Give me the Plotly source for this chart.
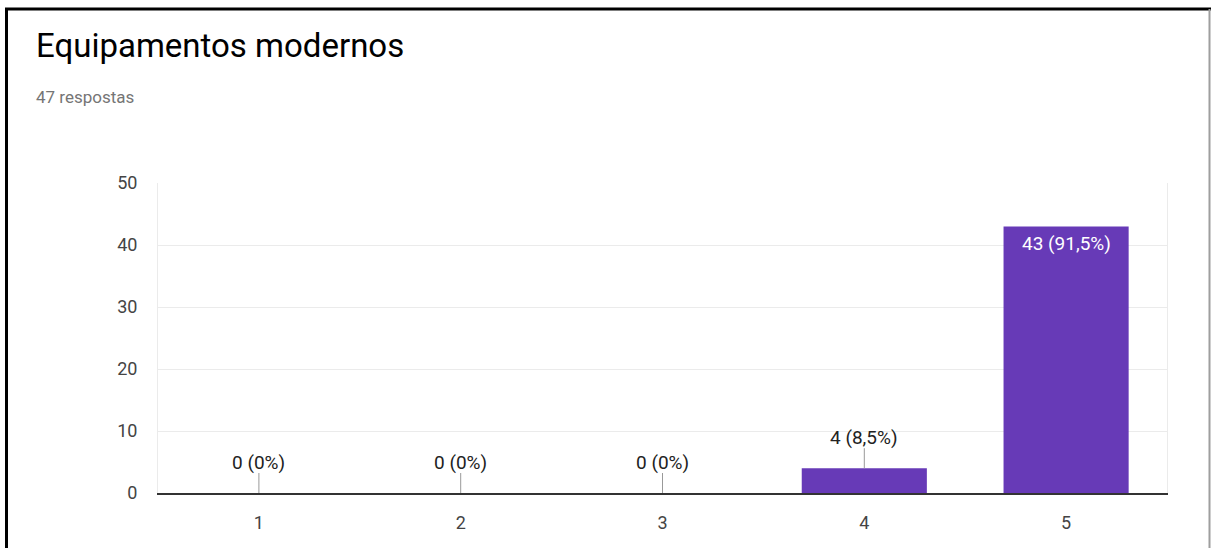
import plotly.graph_objects as go

# Survey results: "Equipamentos modernos" (scale 1-5)
categories = ["1", "2", "3", "4", "5"]
counts = [0, 0, 0, 4, 43]
total = 47
y_ticks = [0, 10, 20, 30, 40, 50]

W, H = 1211, 548
L, R, T, B = 158, 44, 183, 55
pw, ph = W - L - R, H - T - B

def px_x(x):
    return (x - L) / pw

def px_y(y):
    return (H - B - y) / ph

def pct(c):
    v = round(100 * c / total, 1)
    s = f"{v:.1f}".rstrip("0").rstrip(".").replace(".", ",")
    return f"{c} ({s}%)"

PURPLE = "#673ab7"
FONT = "Roboto"

fig = go.Figure(
    go.Bar(
        x=categories,
        y=counts,
        marker=dict(color=PURPLE, line=dict(width=0)),
        width=0.62,
        hoverinfo="skip",
    )
)

annotations = []
shapes = []
inside_cut = max(counts) * 0.8
for i, c in enumerate(counts):
    if c >= inside_cut:
        annotations.append(dict(
            x=i, y=c, xref="x", yref="y", text=pct(c), showarrow=False,
            yshift=-17, font=dict(family=FONT, size=19, color="#ffffff"),
        ))
    else:
        annotations.append(dict(
            x=i, y=c, xref="x", yref="y", text=pct(c), showarrow=False,
            yshift=31, font=dict(family=FONT, size=19, color="#222222"),
        ))
        shapes.append(dict(
            type="line", xref="x", yref="y", ysizemode="pixel", yanchor=c,
            x0=i, x1=i, y0=0, y1=20,
            line=dict(color="#999999", width=1),
        ))

# Title and response count
annotations.append(dict(
    x=px_x(34), y=px_y(45), xref="paper", yref="paper", xanchor="left", yanchor="middle",
    text="Equipamentos modernos", showarrow=False,
    font=dict(family=FONT, size=33, color="#000000"),
))
annotations.append(dict(
    x=px_x(34), y=px_y(97), xref="paper", yref="paper", xanchor="left", yanchor="middle",
    text=f"{total} respostas", showarrow=False,
    font=dict(family=FONT, size=17, color="#757575"),
))

# Outer frame
shapes += [
    dict(type="line", xref="paper", yref="paper", x0=px_x(6.5), x1=px_x(6.5), y0=px_y(8), y1=px_y(H + 2),
         line=dict(color="#000000", width=3)),
    dict(type="line", xref="paper", yref="paper", x0=px_x(5), x1=px_x(W + 2), y0=px_y(9), y1=px_y(9),
         line=dict(color="#000000", width=3)),
    dict(type="line", xref="paper", yref="paper", x0=px_x(1209.5), x1=px_x(1209.5), y0=px_y(9), y1=px_y(H + 2),
         line=dict(color="#9e9e9e", width=2)),
]

fig.update_layout(
    width=W, height=H,
    margin=dict(l=L, r=R, t=T, b=B, pad=0),
    paper_bgcolor="#ffffff", plot_bgcolor="#ffffff",
    showlegend=False,
    annotations=annotations,
    shapes=shapes,
    font=dict(family=FONT),
    xaxis=dict(
        type="category", categoryorder="array", categoryarray=categories,
        range=[-0.5, len(categories) - 0.5],
        showgrid=False, showline=True, linecolor="#333333", linewidth=2,
        ticks="", tickfont=dict(family=FONT, size=18, color="#444444"),
        ticklabelstandoff=12, fixedrange=True,
    ),
    yaxis=dict(
        range=[0, 50], tickvals=y_ticks, showgrid=True, gridcolor="#ebebeb", gridwidth=1,
        zeroline=False, showline=True, mirror=True, linecolor="#ebebeb", linewidth=1,
        ticks="", tickfont=dict(family=FONT, size=18, color="#444444"),
        ticklabelstandoff=16, fixedrange=True,
    ),
)

fig.write_html("out.html", config={"displayModeBar": False})
